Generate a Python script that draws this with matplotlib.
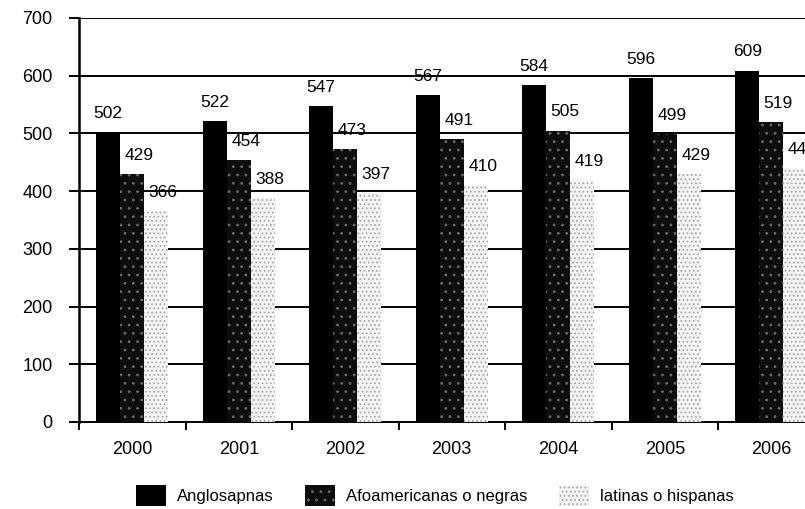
import numpy as np
import matplotlib
matplotlib.use('Agg')
import matplotlib.pyplot as plt
from matplotlib.patches import Patch

plt.rcParams['font.family'] = ['Liberation Sans', 'DejaVu Sans']
plt.rcParams['hatch.linewidth'] = 0.8

# === Data ===
years = ['2000', '2001', '2002', '2003', '2004', '2005', '2006']
anglo = [502, 522, 547, 567, 584, 596, 609]
afro = [429, 454, 473, 491, 505, 499, 519]
latinas = [366, 388, 397, 410, 419, 429, 440]
series_names = ['Anglosapnas', 'Afoamericanas o negras', 'latinas o hispanas']

# === Styles (black / dark speckled / light speckled) ===
styles = [
    dict(facecolor='#000000', edgecolor='#000000', hatch=None),
    dict(facecolor='#0d0d0d', edgecolor='#6a6a6a', hatch='..'),
    dict(facecolor='#f4f4f4', edgecolor='#a8a8a8', hatch='....'),
]

fig = plt.figure(figsize=(8.05, 5.09), dpi=100)
ax = fig.add_axes([79 / 805, 87 / 509, 745.5 / 805, 404 / 509])

x = np.arange(len(years))
w = 0.225
offsets = [-w, 0, w]
label_dx = [0, 5, 5]

for vals, st, off, dx in zip([anglo, afro, latinas], styles, offsets, label_dx):
    bars = ax.bar(x + off, vals, width=w, facecolor=st['facecolor'],
                  edgecolor=st['edgecolor'], hatch=st['hatch'], linewidth=0, zorder=3)
    for b, v in zip(bars, vals):
        ax.annotate(str(v), (b.get_x() + b.get_width() / 2, v),
                    xytext=(dx, 8), textcoords='offset points',
                    ha='center', va='bottom', fontsize=12.5, zorder=4)

ax.set_xlim(-0.5, len(years) - 0.5)
ax.set_ylim(0, 700)
ax.set_yticks(range(0, 701, 100))
ax.yaxis.grid(True, color='black', linewidth=1.4, zorder=0)
ax.set_axisbelow(True)

# category boundaries carry the tick marks, labels sit at the centres
ax.set_xticks(np.arange(-0.5, len(years), 1.0))
ax.set_xticklabels([])
ax.set_xticks(x, minor=True)
ax.set_xticklabels(years, minor=True, fontsize=13)
ax.tick_params(axis='x', which='major', length=6, width=1.4, direction='out')
ax.tick_params(axis='x', which='minor', length=0, pad=14)
ax.tick_params(axis='y', length=7, width=1.4, pad=12, labelsize=13)

for s in ['top', 'right']:
    ax.spines[s].set_visible(False)
ax.spines['left'].set_linewidth(1.8)
ax.spines['bottom'].set_linewidth(1.4)

handles = [Patch(facecolor=st['facecolor'], edgecolor=st['edgecolor'],
                 hatch=st['hatch'], linewidth=0) for st in styles]
fig.legend(handles, series_names, loc='center', bbox_to_anchor=(0.540, 0.026),
           ncol=3, frameon=False, fontsize=12, handlelength=1.8, handleheight=1.55,
           handletextpad=0.66, columnspacing=1.9, borderpad=0, borderaxespad=0)

fig.savefig('out.png', dpi=100)
